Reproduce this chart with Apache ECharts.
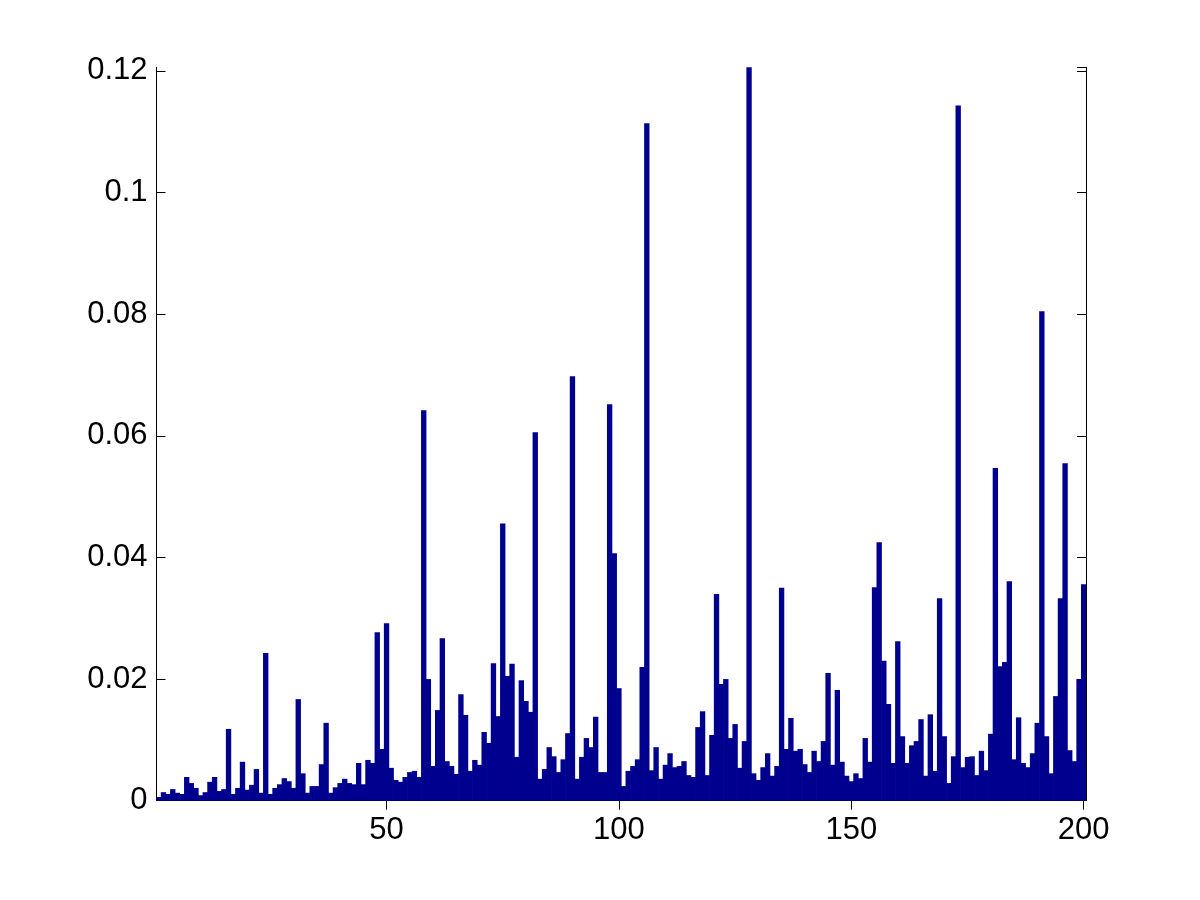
<!DOCTYPE html>
<html>
<head>
<meta charset="utf-8">
<script src="https://cdn.jsdelivr.net/npm/echarts@6/dist/echarts.min.js"></script>
<style>
  html, body { margin: 0; padding: 0; background: #fff; }
  #main { width: 1200px; height: 900px; }
</style>
</head>
<body>
<div id="main"></div>
<script>
// bar values, index 1..200
var values = [
  0.0006, 0.0014, 0.0011, 0.0019, 0.0013, 0.0011, 0.0039, 0.0029, 0.0021, 0.0009,
  0.0014, 0.0031, 0.0039, 0.0016, 0.0019, 0.0118, 0.0011, 0.0021, 0.0064, 0.0018,
  0.0026, 0.0052, 0.0013, 0.0243, 0.0011, 0.0021, 0.0027, 0.0037, 0.0032, 0.0021,
  0.0167, 0.0045, 0.0013, 0.0024, 0.0024, 0.0060, 0.0128, 0.0013, 0.0022, 0.0029,
  0.0036, 0.0029, 0.0027, 0.0062, 0.0027, 0.0067, 0.0062, 0.0277, 0.0085, 0.0292,
  0.0054, 0.0034, 0.0031, 0.0039, 0.0047, 0.0049, 0.0039, 0.0642, 0.0200, 0.0057,
  0.0149, 0.0267, 0.0065, 0.0057, 0.0044, 0.0175, 0.0141, 0.0049, 0.0067, 0.0059,
  0.0113, 0.0095, 0.0226, 0.0139, 0.0456, 0.0205, 0.0225, 0.0072, 0.0198, 0.0164,
  0.0146, 0.0606, 0.0036, 0.0052, 0.0088, 0.0073, 0.0047, 0.0068, 0.0111, 0.0698,
  0.0036, 0.0072, 0.0103, 0.0088, 0.0138, 0.0047, 0.0047, 0.0652, 0.0407, 0.0185,
  0.0024, 0.0049, 0.0057, 0.0068, 0.0220, 0.1114, 0.0050, 0.0088, 0.0036, 0.0059,
  0.0078, 0.0055, 0.0057, 0.0065, 0.0042, 0.0039, 0.0121, 0.0147, 0.0042, 0.0108,
  0.0340, 0.0192, 0.0200, 0.0103, 0.0126, 0.0054, 0.0098, 0.1206, 0.0045, 0.0034,
  0.0055, 0.0078, 0.0041, 0.0057, 0.0350, 0.0085, 0.0136, 0.0082, 0.0085, 0.0060,
  0.0047, 0.0082, 0.0065, 0.0098, 0.0210, 0.0059, 0.0182, 0.0064, 0.0041, 0.0032,
  0.0045, 0.0037, 0.0103, 0.0064, 0.0351, 0.0425, 0.0230, 0.0159, 0.0062, 0.0262,
  0.0106, 0.0062, 0.0091, 0.0098, 0.0134, 0.0041, 0.0142, 0.0049, 0.0333, 0.0106,
  0.0029, 0.0073, 0.1143, 0.0055, 0.0072, 0.0073, 0.0042, 0.0082, 0.0050, 0.0110,
  0.0547, 0.0221, 0.0228, 0.0361, 0.0068, 0.0137, 0.0062, 0.0055, 0.0078, 0.0128,
  0.0805, 0.0106, 0.0045, 0.0172, 0.0333, 0.0555, 0.0083, 0.0065, 0.0200, 0.0356
];
var xTicks = [50, 100, 150, 200];

var categories = [];
for (var i = 1; i <= values.length; i++) {
  categories.push(String(i));
}

var myChart = echarts.init(document.getElementById('main'));

var font = { fontFamily: 'Liberation Sans, Arial, Helvetica, sans-serif', fontSize: 31, color: '#000' };
var lineStyle = { color: '#000', width: 1 };

function showTick(index) {
  return xTicks.indexOf(index + 1) >= 0;
}

function xAxis(pos, labels) {
  return {
    type: 'category',
    position: pos,
    data: categories,
    boundaryGap: true,
    axisLine: { show: true, lineStyle: lineStyle },
    axisTick: { show: true, inside: true, length: 9, alignWithLabel: true, interval: showTick, lineStyle: lineStyle },
    axisLabel: Object.assign({ show: labels, interval: showTick, margin: 14 }, font),
    splitLine: { show: false }
  };
}

function yAxis(pos, labels) {
  return {
    type: 'value',
    position: pos,
    min: 0,
    max: 0.1206,
    interval: 0.02,
    axisLine: { show: true, lineStyle: lineStyle },
    axisTick: { show: true, inside: true, length: 9, lineStyle: lineStyle },
    axisLabel: Object.assign({ show: labels, margin: 9, showMaxLabel: false }, font),
    splitLine: { show: false }
  };
}

var option = {
  animation: false,
  backgroundColor: '#fff',
  grid: { left: 156.5, right: 114, top: 67.3, bottom: 99.3, containLabel: false },
  xAxis: [xAxis('bottom', true), xAxis('top', false)],
  yAxis: [yAxis('left', true), yAxis('right', false)],
  series: [{
    type: 'bar',
    xAxisIndex: 0,
    yAxisIndex: 0,
    data: values,
    barCategoryGap: '-15%',
    itemStyle: { color: '#00008f' }
  }]
};

myChart.setOption(option);
</script>
</body>
</html>
